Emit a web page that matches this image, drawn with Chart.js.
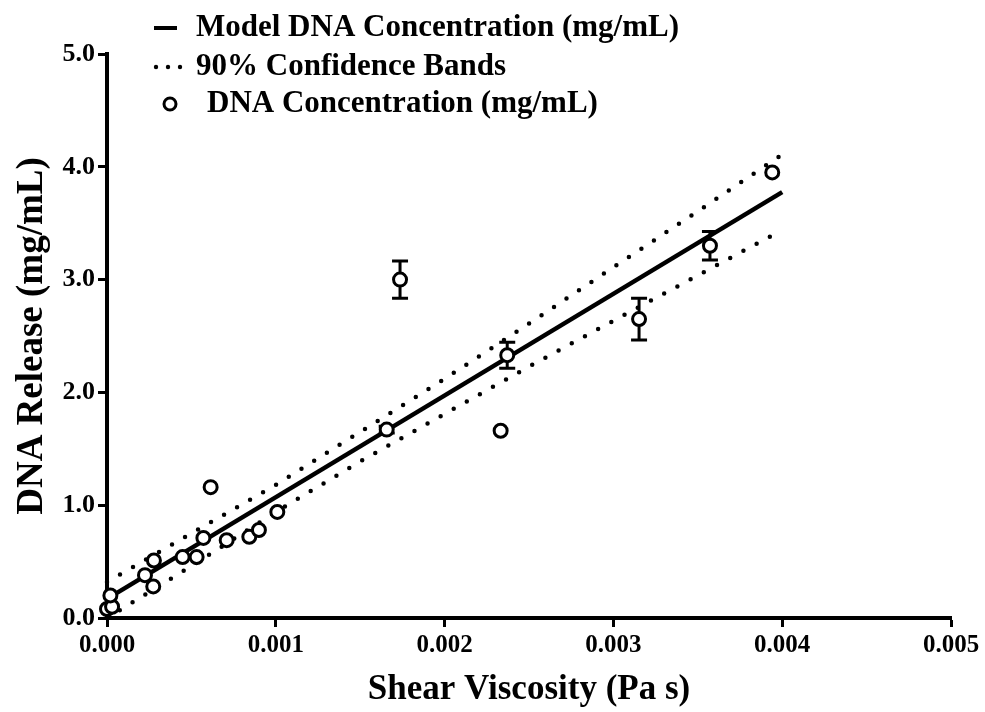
<!DOCTYPE html>
<html>
<head>
<meta charset="utf-8">
<script src="https://cdn.jsdelivr.net/npm/chart.js@4/dist/chart.umd.min.js"></script>
<style>
html,body{margin:0;padding:0;background:#fff;}
#wrap{width:985px;height:712px;position:relative;}
</style>
</head>
<body>
<div id="wrap"><canvas id="c" width="985" height="712"></canvas></div>
<script>
// ---- data ----
const xTitle = 'Shear Viscosity (Pa s)';
const yTitle = 'DNA Release (mg/mL)';
const legendLabels = ['Model DNA Concentration (mg/mL)', '90% Confidence Bands', 'DNA Concentration (mg/mL)'];

const obsX = [0.00000, 0.00003, 0.00002, 0.000225, 0.000274, 0.000278, 0.000448, 0.000531, 0.000571, 0.000614, 0.000709, 0.000843, 0.000900, 0.001009, 0.001657, 0.001736, 0.002332, 0.002371, 0.003152, 0.003572, 0.003941];
const obsY = [0.08, 0.10, 0.20, 0.38, 0.28, 0.51, 0.54, 0.54, 0.71, 1.16, 0.69, 0.72, 0.78, 0.94, 1.67, 3.00, 1.66, 2.33, 2.65, 3.30, 3.95];
const obsErr = [0, 0, 0, 0, 0, 0, 0, 0, 0, 0, 0, 0, 0, 0, 0.03, 0.165, 0, 0.115, 0.185, 0.127, 0];

const modelX = [0, 0.004];
const modelY = [0.17, 3.775];

const bandX = [0, 0.0005, 0.001, 0.0015, 0.002, 0.0025, 0.003, 0.0035, 0.004];
const bandUpper = [0.32, 0.75, 1.18, 1.65, 2.12, 2.61, 3.11, 3.605, 4.11];
const bandLower = [0.00, 0.46, 0.94, 1.388, 1.809, 2.229, 2.635, 3.037, 3.44];

const FONT = '"Liberation Serif", "Times New Roman", serif';

const pts = (xs, ys) => xs.map((x, i) => ({x: x, y: ys[i]}));

const errorBars = {
  id: 'errorBars',
  beforeDatasetsDraw(chart) {
    const ctx = chart.ctx, xs = chart.scales.x, ys = chart.scales.y;
    ctx.save();
    ctx.strokeStyle = '#000';
    ctx.lineWidth = 3;
    obsX.forEach((x, i) => {
      const e = obsErr[i];
      if (!e) return;
      const px = xs.getPixelForValue(x);
      const pt = ys.getPixelForValue(obsY[i] + e);
      const pb = ys.getPixelForValue(obsY[i] - e);
      ctx.beginPath();
      ctx.moveTo(px, pt); ctx.lineTo(px, pb);
      ctx.moveTo(px - 8, pt); ctx.lineTo(px + 8, pt);
      ctx.moveTo(px - 8, pb); ctx.lineTo(px + 8, pb);
      ctx.stroke();
    });
    ctx.restore();
  }
};

const customLegend = {
  id: 'customLegend',
  afterDraw(chart) {
    const ctx = chart.ctx;
    ctx.save();
    ctx.fillStyle = '#000';
    ctx.strokeStyle = '#000';
    ctx.font = 'bold 31px ' + FONT;
    ctx.textBaseline = 'middle';
    ctx.textAlign = 'left';
    // row 1: solid line
    ctx.lineWidth = 4;
    ctx.beginPath(); ctx.moveTo(154, 28); ctx.lineTo(177, 28); ctx.stroke();
    ctx.fillText(legendLabels[0], 196, 28);
    // row 2: dotted
    [156, 168, 180].forEach(x => { ctx.beginPath(); ctx.arc(x, 67, 2.2, 0, Math.PI * 2); ctx.fill(); });
    ctx.fillText(legendLabels[1], 196, 67);
    // row 3: open circle
    ctx.lineWidth = 3;
    ctx.beginPath(); ctx.arc(170, 104, 6, 0, Math.PI * 2); ctx.stroke();
    ctx.fillText(legendLabels[2], 207, 104);
    ctx.restore();
  }
};

new Chart(document.getElementById('c'), {
  type: 'scatter',
  data: {
    datasets: [
      {
        label: legendLabels[2],
        data: pts(obsX, obsY),
        pointStyle: 'circle',
        pointRadius: 6.5,
        pointBorderWidth: 3,
        pointBackgroundColor: '#fff',
        pointBorderColor: '#000',
        showLine: false,
        clip: false
      },
      {
        label: legendLabels[0],
        data: pts(modelX, modelY),
        showLine: true,
        borderColor: '#000',
        borderWidth: 4.5,
        pointRadius: 0,
        clip: false
      },
      {
        label: legendLabels[1],
        data: pts(bandX, bandUpper),
        showLine: true,
        borderColor: '#000',
        borderWidth: 4.5,
        borderDash: [0, 15],
        borderCapStyle: 'round',
        pointRadius: 0,
        clip: false
      },
      {
        label: legendLabels[1] + ' (lower)',
        data: pts(bandX, bandLower),
        showLine: true,
        borderColor: '#000',
        borderWidth: 4.5,
        borderDash: [0, 15],
        borderCapStyle: 'round',
        pointRadius: 0,
        clip: false
      }
    ]
  },
  options: {
    responsive: false,
    animation: false,
    layout: {padding: {top: 54, right: 34, left: 0, bottom: 0}},
    plugins: {legend: {display: false}, tooltip: {enabled: false}},
    scales: {
      x: {
        type: 'linear',
        min: 0, max: 0.005,
        afterFit(s) { s.height = 94; },
        ticks: {
          stepSize: 0.001,
          color: '#000',
          padding: 4,
          maxRotation: 0,
          font: {family: FONT, size: 25, weight: 'bold'},
          callback: v => Number(v).toFixed(3)
        },
        grid: {display: true, drawOnChartArea: false, drawTicks: true, tickLength: 9, tickWidth: 3, tickColor: '#000'},
        border: {display: true, color: '#000', width: 4},
        title: {display: true, text: xTitle, color: '#000', padding: {top: 0, bottom: 5}, font: {family: FONT, size: 35, weight: 'bold', lineHeight: 1}}
      },
      y: {
        type: 'linear',
        min: 0, max: 5,
        afterFit(s) { s.width = 107; },
        ticks: {
          stepSize: 1,
          color: '#000',
          padding: 3,
          font: {family: FONT, size: 26, weight: 'bold'},
          callback: v => Number(v).toFixed(1)
        },
        grid: {display: true, drawOnChartArea: false, drawTicks: true, tickLength: 9, tickWidth: 3, tickColor: '#000'},
        border: {display: true, color: '#000', width: 4},
        title: {display: true, text: yTitle, color: '#000', padding: {top: 14, bottom: 0}, font: {family: FONT, size: 37, weight: 'bold', lineHeight: 1}}
      }
    }
  },
  plugins: [errorBars, customLegend]
});
</script>
</body>
</html>
